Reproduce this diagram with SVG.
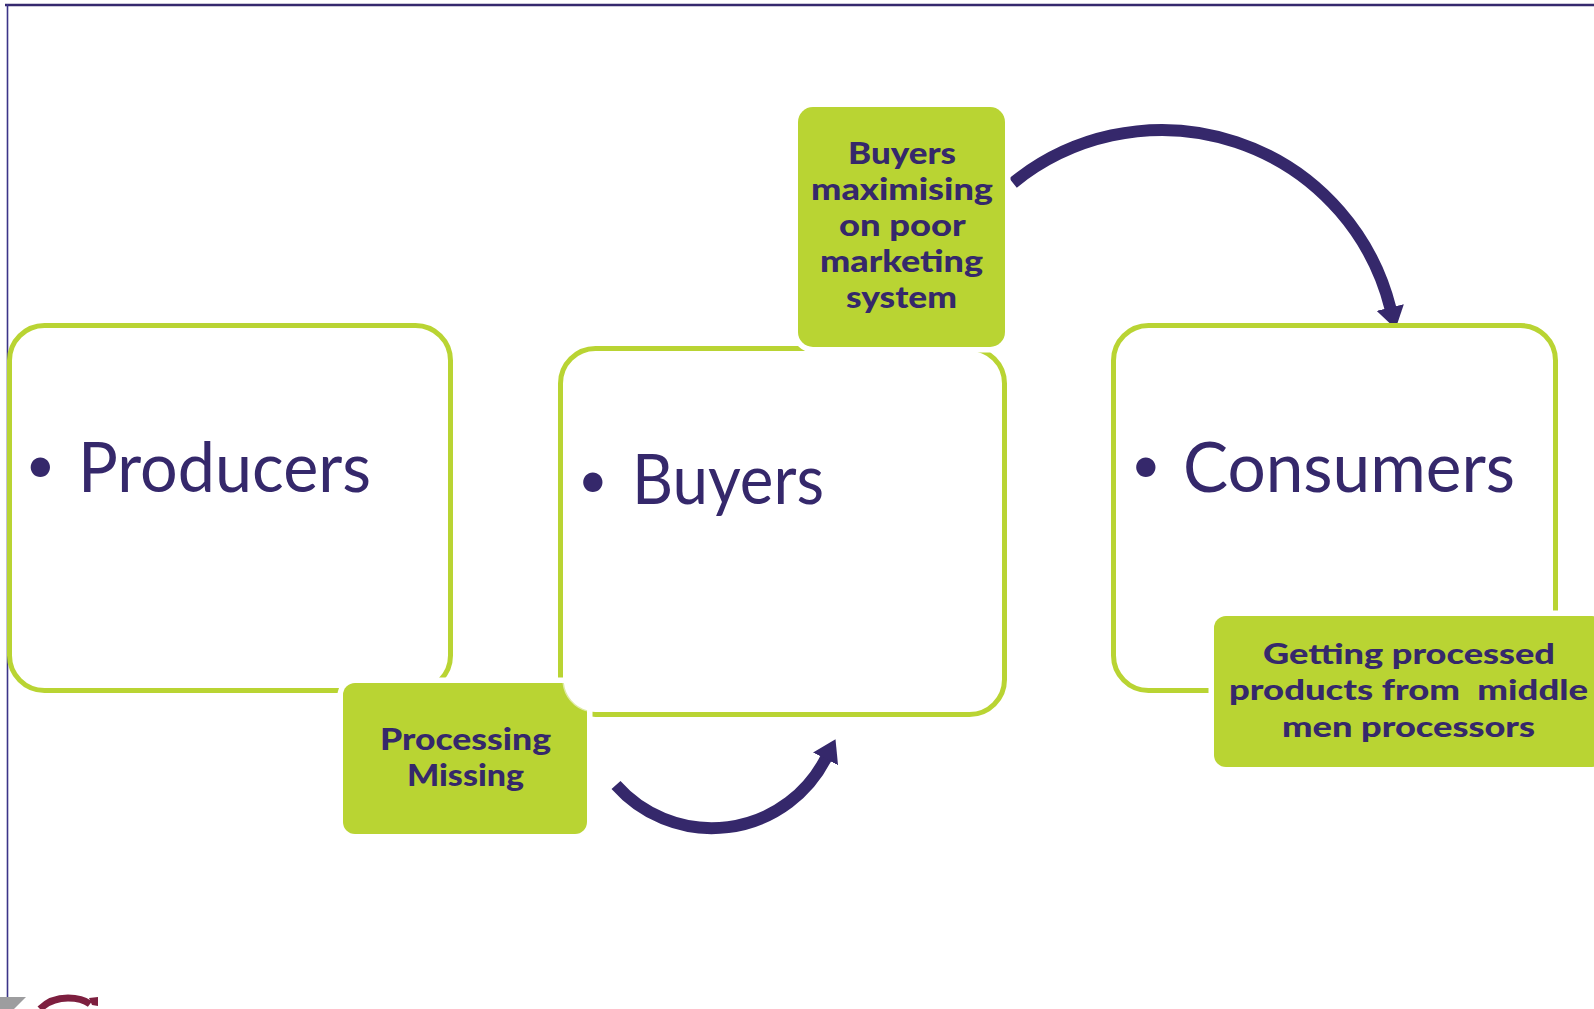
<svg xmlns="http://www.w3.org/2000/svg" width="1594" height="1009" viewBox="0 0 1594 1009">
  <defs>
    <style>
      .frame { fill: #ffffff; stroke: #b9d433; stroke-width: 5; }
      .halo  { fill: #ffffff; stroke: #ffffff; stroke-width: 11; }
      .tag   { fill: #b9d433; }
      .big   { font-family: Lato, "Open Sans", "Liberation Sans", sans-serif; font-size: 70px; fill: #35286b; }
      .dot   { font-size: 52px; }
      .lbl   { font-family: Lato, "Open Sans", "Liberation Sans", sans-serif; font-weight: 900; fill: #35286b; }
      .arc   { fill: none; stroke: #35286b; stroke-width: 12; stroke-linecap: butt; }
    </style>
    <marker id="head" markerUnits="userSpaceOnUse" viewBox="0 0 22 28" markerWidth="22" markerHeight="28" refX="1" refY="14" orient="auto">
      <path d="M0,0 L22,14 L0,28 Z" fill="#35286b"/>
    </marker>
  </defs>

  <rect x="0" y="0" width="1594" height="1009" fill="#ffffff"/>

  <!-- page frame -->
  <g id="frame">
    <line x1="5" y1="5" x2="1594" y2="5" stroke="#35296e" stroke-width="2.5"/>
    <line x1="7.5" y1="4" x2="7.5" y2="1009" stroke="#3b3488" stroke-width="1.6"/>
  </g>

  <!-- connectors sit under the boxes so the top arrow tip tucks under Consumers -->
  <g id="connectors">
    <path class="arc" d="M616,785 A128,128 0 0 0 826,758" marker-end="url(#head)"/>
    <path class="arc" d="M1013,183 A235.7,235.7 0 0 1 1390.5,308.5" marker-end="url(#head)"/>
  </g>

  <g id="producers">
    <rect class="frame" x="9.5" y="325.5" width="441" height="365" rx="35"/>
    <text class="big"><tspan class="dot" x="25.3" y="483.3">•</tspan><tspan x="78" y="492" textLength="293" lengthAdjust="spacingAndGlyphs">Producers</tspan></text>
  </g>

  <g id="buyers">
    <rect class="frame" x="560.5" y="348.5" width="444" height="366" rx="35"/>
    <text class="big"><tspan class="dot" x="577.8" y="497.8">•</tspan><tspan x="632" y="504" textLength="192" lengthAdjust="spacingAndGlyphs">Buyers</tspan></text>
  </g>

  <g id="consumers">
    <rect class="frame" x="1113.5" y="325.5" width="442" height="365" rx="35"/>
    <text class="big"><tspan class="dot" x="1130.8" y="483.3">•</tspan><tspan x="1183" y="492" textLength="332" lengthAdjust="spacingAndGlyphs">Consumers</tspan></text>
  </g>

  <g id="processing-missing">
    <rect class="halo" x="343" y="683" width="244" height="151" rx="12"/>
    <rect class="tag" x="343" y="683" width="244" height="151" rx="12"/>
    <text class="lbl" font-size="30">
      <tspan x="380" y="750" textLength="171" lengthAdjust="spacingAndGlyphs">Processing</tspan>
      <tspan x="407" y="786" textLength="117" lengthAdjust="spacingAndGlyphs">Missing</tspan>
    </text>
  </g>

  <!-- inner corner of the Buyers box showing over the tag -->
  <g id="buyers-corner">
    <path d="M563.2,683 L587,683 L587,710.9 A32.5,32.5 0 0 1 563.2,683 Z" fill="#ffffff"/>
    <path d="M563.2,683 A32.5,32.5 0 0 0 587,710.9" fill="none" stroke="#dfeaa6" stroke-width="1.5"/>
  </g>

  <g id="buyers-maximising">
    <rect class="halo" x="798" y="107" width="207" height="240" rx="15"/>
    <rect class="tag" x="798" y="107" width="207" height="240" rx="15"/>
    <text class="lbl" font-size="30">
      <tspan x="848" y="164" textLength="108" lengthAdjust="spacingAndGlyphs">Buyers</tspan>
      <tspan x="811" y="200" textLength="182" lengthAdjust="spacingAndGlyphs">maximising</tspan>
      <tspan x="839" y="236" textLength="126" lengthAdjust="spacingAndGlyphs">on poor</tspan>
      <tspan x="820" y="272" textLength="163" lengthAdjust="spacingAndGlyphs">marketing</tspan>
      <tspan x="846" y="308" textLength="111" lengthAdjust="spacingAndGlyphs">system</tspan>
    </text>
  </g>

  <g id="getting-processed">
    <rect class="halo" x="1214" y="616" width="390" height="151" rx="12"/>
    <rect class="tag" x="1214" y="616" width="390" height="151" rx="12"/>
    <text class="lbl" font-size="29" xml:space="preserve"><tspan x="1263" y="664" textLength="292" lengthAdjust="spacingAndGlyphs">Getting processed</tspan><tspan x="1229" y="700" textLength="359" lengthAdjust="spacingAndGlyphs">products from  middle</tspan><tspan x="1282" y="737" textLength="253" lengthAdjust="spacingAndGlyphs">men processors</tspan></text>
  </g>

  <!-- corner of a logo cut off by the page edge -->
  <g id="logo">
    <polygon points="0,997 26,997 14,1009 0,1009" fill="#9d9d9f"/>
    <path d="M40,1009 Q51,998 68,998 Q82,998 90,1004" fill="none" stroke="#7d1f3f" stroke-width="7"/>
    <polygon points="89,998 98,997 98,1006 92,1005" fill="#7d1f3f"/>
  </g>
</svg>
